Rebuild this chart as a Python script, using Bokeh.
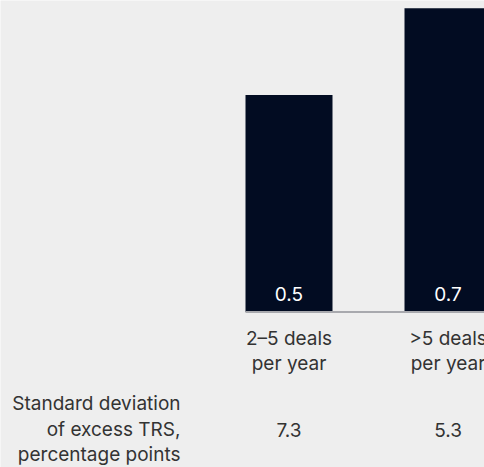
from bokeh.plotting import figure
from bokeh.models import Range1d
from bokeh.core.properties import value
from bokeh.embed import file_html
from bokeh.resources import INLINE

# Data
categories_line1 = ["2\u20135 deals", ">5 deals"]
categories_line2 = ["per year", "per year"]
values = [0.5, 0.7]
value_labels = ["0.5", "0.7"]
std_dev = [7.3, 5.3]
std_dev_labels = ["7.3", "5.3"]
row_title = ["Standard deviation", "of excess TRS,", "percentage points"]

W, H = 484, 467
BG = "#eeeeee"
BAR = "#020c22"
TXT = "#333333"
FONT = "Inter"
FS = "19px"

# Layout in screen pixels, converted to data units
BASE_PX = 311.5          # pixel row of the zero line
PX_PER_UNIT = 434.0      # vertical pixels per unit of value
X0_PX = 288.5            # pixel column of the first bar centre
STEP_PX = 159.0          # pixels between bar centres
BAR_W_PX = 87.0
TEXT_SHIFT = 7           # lift applied to text baselines


def ypx(py):
    return (BASE_PX - (py - TEXT_SHIFT)) / PX_PER_UNIT


def xpx(px):
    return (px - X0_PX) / STEP_PX


xs = list(range(len(values)))

p = figure(width=W, height=H, output_backend="svg", toolbar_location=None,
           x_range=Range1d(xpx(0), xpx(W)),
           y_range=Range1d(-(H - BASE_PX) / PX_PER_UNIT, BASE_PX / PX_PER_UNIT),
           min_border=0, background_fill_color=BG, border_fill_color=BG,
           outline_line_color=None)
p.axis.visible = False
p.grid.visible = False

p.vbar(x=xs, top=values, bottom=0, width=BAR_W_PX / STEP_PX,
       fill_color=BAR, line_color=None)

# zero line under the bars
p.segment(x0=[xpx(245)], y0=[0], x1=[xpx(W + 5)], y1=[0],
          line_color="#a8a9ae", line_width=2)


def label(x, y, text, color=TXT, align="center"):
    p.text(x=x, y=y, text=text, text_color=color, text_font=value(FONT),
           text_font_size=FS, text_align=align, text_baseline="alphabetic")


# value labels inside the bars
label(xs, [ypx(300)] * len(xs), value_labels, color="white")

# category labels
label(xs, [ypx(345)] * len(xs), categories_line1)
label(xs, [ypx(370)] * len(xs), categories_line2)

# standard deviation row
label([xpx(180)] * 3, [ypx(410), ypx(436), ypx(461)], row_title, align="right")
label(xs, [ypx(436)] * len(xs), std_dev_labels)

open("out.html", "w").write(file_html(p, INLINE))
